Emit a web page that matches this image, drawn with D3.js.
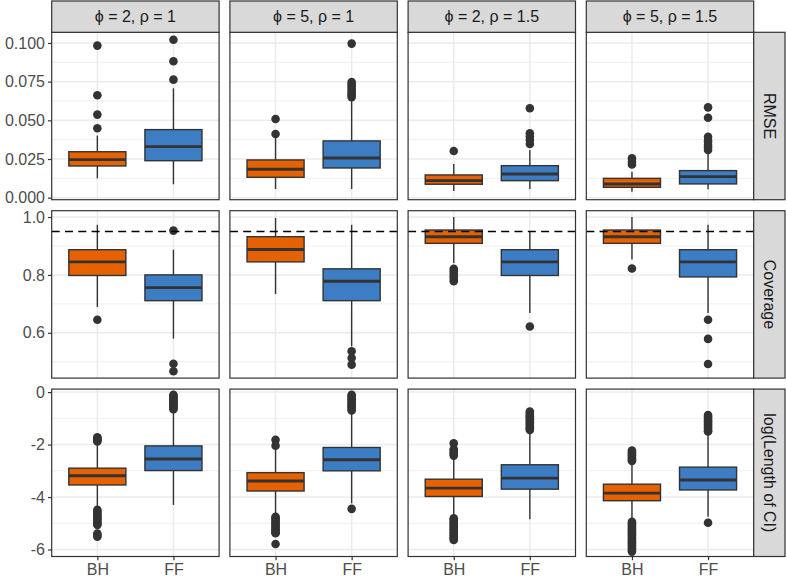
<!DOCTYPE html>
<html><head><meta charset="utf-8">
<script src="https://cdn.jsdelivr.net/npm/d3@7"></script>
<style>body{margin:0;background:#fff}</style>
</head><body><svg id="c" width="787" height="580"></svg>
<script>
// ---------- data ----------
const colFacets = ["ϕ = 2, ρ = 1", "ϕ = 5, ρ = 1", "ϕ = 2, ρ = 1.5", "ϕ = 5, ρ = 1.5"];
const rowFacets = ["RMSE", "Coverage", "log(Length of CI)"];
const methods = ["BH", "FF"];
const methodColors = ["#E66101", "#3C7DC4"];

const rmseTicks = [0, 0.025, 0.05, 0.075, 0.1];
const rmseTickLabels = ["0.000", "0.025", "0.050", "0.075", "0.100"];
const rmseMinor = [0.0125, 0.0375, 0.0625, 0.0875];
const covTicks = [0.6, 0.8, 1.0];
const covTickLabels = ["0.6", "0.8", "1.0"];
const covMinor = [0.5, 0.7, 0.9];
const logTicks = [-6, -4, -2, 0];
const logTickLabels = ["-6", "-4", "-2", "0"];
const logMinor = [-5, -3, -1];
const nominalCoverage = 0.95;

// box stats per column facet: [lower whisker, Q1, median, Q3, upper whisker]
const rmseBH = [
  [0.0125, 0.0205, 0.0246, 0.0297, 0.0401],
  [0.0056, 0.0132, 0.0184, 0.0244, 0.0394],
  [0.0043, 0.0087, 0.0110, 0.0147, 0.0218],
  [0.0039, 0.0067, 0.0088, 0.0125, 0.0168]
];
const rmseFF = [
  [0.0087, 0.0239, 0.0330, 0.0440, 0.0707],
  [0.0056, 0.0192, 0.0257, 0.0367, 0.0632],
  [0.0056, 0.0110, 0.0153, 0.0207, 0.0308],
  [0.0054, 0.0089, 0.0136, 0.0175, 0.0290]
];
const rmseBHOut = [
  [0.0449, 0.0537, 0.0662, 0.0983],
  [0.0412, 0.0509],
  [0.0302],
  [0.0215, 0.0232, 0.0255]
];
const rmseFFOut = [
  [0.0763, 0.0882, 0.1021],
  [0.0650, 0.0662, 0.0675, 0.0690, 0.0705, 0.0720, 0.0735, 0.0748, 0.0996],
  [0.0347, 0.0373, 0.0395, 0.0416, 0.0578],
  [0.0308, 0.0325, 0.0341, 0.0360, 0.0373, 0.0394, 0.0517, 0.0584]
];

const covBH = [
  [0.689, 0.798, 0.845, 0.887, 0.973],
  [0.734, 0.845, 0.888, 0.932, 0.997],
  [0.841, 0.909, 0.932, 0.955, 1.000],
  [0.853, 0.909, 0.932, 0.955, 1.000]
];
const covFF = [
  [0.580, 0.711, 0.756, 0.800, 0.887],
  [0.553, 0.711, 0.778, 0.821, 0.973],
  [0.668, 0.798, 0.845, 0.887, 0.950],
  [0.668, 0.793, 0.845, 0.887, 0.973]
];
const covBHOut = [
  [0.645],
  [],
  [0.821, 0.813, 0.804, 0.795, 0.787, 0.778],
  [0.822]
];
const covFFOut = [
  [0.953, 0.493, 0.467],
  [0.536, 0.513, 0.490],
  [0.622],
  [0.645, 0.579, 0.492]
];

const logBH = [
  [-4.37, -3.54, -3.19, -2.90, -2.01],
  [-4.68, -3.77, -3.39, -3.07, -2.20],
  [-4.75, -3.98, -3.66, -3.32, -2.50],
  [-4.85, -4.14, -3.85, -3.51, -2.68]
];
const logFF = [
  [-4.30, -2.99, -2.55, -2.05, -0.70],
  [-4.24, -3.00, -2.58, -2.11, -0.76],
  [-4.85, -3.70, -3.28, -2.77, -1.50],
  [-4.75, -3.73, -3.35, -2.86, -1.55]
];
const logBHOut = [
  [-1.72, -1.76, -1.80, -1.84, -1.88, -4.49, -4.55, -4.61, -4.67, -4.73, -4.79, -4.85, -4.91, -4.97, -5.03, -5.06, -5.39, -5.45, -5.51],
  [-1.82, -2.04, -4.75, -4.81, -4.87, -4.93, -4.99, -5.05, -5.11, -5.17, -5.23, -5.29, -5.35, -5.38, -5.79],
  [-1.95, -2.18, -2.24, -2.30, -2.36, -2.42, -4.81, -4.87, -4.93, -4.99, -5.05, -5.11, -5.17, -5.23, -5.29, -5.35, -5.41, -5.47, -5.53, -5.59, -5.64],
  [-2.23, -2.29, -2.35, -2.41, -2.47, -2.53, -2.59, -2.62, -4.94, -5.00, -5.06, -5.12, -5.18, -5.24, -5.30, -5.36, -5.42, -5.48, -5.54, -5.60, -5.66, -5.72, -5.78, -5.84, -5.90, -5.96, -6.02, -6.08]
];
const logFFOut = [
  [-0.10, -0.15, -0.20, -0.25, -0.30, -0.35, -0.40, -0.45, -0.50, -0.55, -0.60, -0.65],
  [-0.10, -0.16, -0.22, -0.28, -0.34, -0.40, -0.46, -0.52, -0.58, -0.64, -0.70, -4.45],
  [-0.74, -0.80, -0.86, -0.92, -0.98, -1.04, -1.10, -1.16, -1.22, -1.28, -1.34, -1.40, -1.44],
  [-0.87, -0.93, -0.99, -1.05, -1.11, -1.17, -1.23, -1.29, -1.35, -1.41, -1.47, -1.50, -4.98]
];

// ---------- layout ----------
const W = 787, H = 580;
const panelLeft = 51.7, panelW = 167.4, colGap = 10.8;
const panelTop = 32.3, panelH = 167.4, rowGap = 11;
const stripSize = 31.3;
const font = "'Liberation Sans', Arial, Helvetica, sans-serif";
const fs = 16;

const rows = [
  {name: rowFacets[0], domain: [-0.0013, 0.1069], ticks: rmseTicks, labels: rmseTickLabels, minor: rmseMinor,
   stats: [rmseBH, rmseFF], outs: [rmseBHOut, rmseFFOut], hline: null},
  {name: rowFacets[1], domain: [0.4435, 1.0218], ticks: covTicks, labels: covTickLabels, minor: covMinor,
   stats: [covBH, covFF], outs: [covBHOut, covFFOut], hline: nominalCoverage},
  {name: rowFacets[2], domain: [-6.267, 0.115], ticks: logTicks, labels: logTickLabels, minor: logMinor,
   stats: [logBH, logFF], outs: [logBHOut, logFFOut], hline: null}
];

const svg = d3.select("#c");
svg.append("rect").attr("width", W).attr("height", H).attr("fill", "#fff");

const x = d3.scalePoint().domain(methods).range([0, panelW]).padding(0.6);
const boxW = x.step() * 0.75;
const dark = "#333333";

rows.forEach((row, ri) => {
  const py = panelTop + ri * (panelH + rowGap);
  const y = d3.scaleLinear().domain(row.domain).range([panelH, 0]);
  colFacets.forEach((cf, ci) => {
    const px = panelLeft + ci * (panelW + colGap);
    const g = svg.append("g").attr("transform", `translate(${px},${py})`);
    g.append("rect").attr("width", panelW).attr("height", panelH).attr("fill", "#fff");
    g.selectAll(".mn").data(row.minor).enter().append("line")
      .attr("x1", 0).attr("x2", panelW).attr("y1", d => y(d)).attr("y2", d => y(d))
      .attr("stroke", "#EBEBEB").attr("stroke-width", 0.8);
    g.selectAll(".mj").data(row.ticks).enter().append("line")
      .attr("x1", 0).attr("x2", panelW).attr("y1", d => y(d)).attr("y2", d => y(d))
      .attr("stroke", "#EBEBEB").attr("stroke-width", 1.5);
    g.selectAll(".vj").data(methods).enter().append("line")
      .attr("x1", d => x(d)).attr("x2", d => x(d)).attr("y1", 0).attr("y2", panelH)
      .attr("stroke", "#EBEBEB").attr("stroke-width", 1.5);
    methods.forEach((m, mi) => {
      const s = row.stats[mi][ci];
      const cx = x(m);
      const bg = g.append("g");
      bg.append("line").attr("x1", cx).attr("x2", cx).attr("y1", y(s[3])).attr("y2", y(s[4]))
        .attr("stroke", dark).attr("stroke-width", 1.4);
      bg.append("line").attr("x1", cx).attr("x2", cx).attr("y1", y(s[1])).attr("y2", y(s[0]))
        .attr("stroke", dark).attr("stroke-width", 1.4);
      bg.append("rect").attr("x", cx - boxW / 2).attr("width", boxW)
        .attr("y", y(s[3])).attr("height", y(s[1]) - y(s[3]))
        .attr("fill", methodColors[mi]).attr("stroke", dark).attr("stroke-width", 1.4);
      bg.append("line").attr("x1", cx - boxW / 2).attr("x2", cx + boxW / 2)
        .attr("y1", y(s[2])).attr("y2", y(s[2]))
        .attr("stroke", dark).attr("stroke-width", 2.9);
      bg.selectAll("circle").data(row.outs[mi][ci]).enter().append("circle")
        .attr("cx", cx).attr("cy", d => y(d)).attr("r", 4.3).attr("fill", dark);
    });
    if (row.hline !== null) {
      g.append("line").attr("x1", 0).attr("x2", panelW)
        .attr("y1", y(row.hline)).attr("y2", y(row.hline))
        .attr("stroke", "#000").attr("stroke-width", 1.5).attr("stroke-dasharray", "8,5.3");
    }
    g.append("rect").attr("width", panelW).attr("height", panelH)
      .attr("fill", "none").attr("stroke", dark).attr("stroke-width", 1.2);

    if (ci === 0) {
      const ax = g.append("g").call(d3.axisLeft(y).tickValues(row.ticks)
        .tickFormat((d, i) => row.labels[i]).tickSize(3.7).tickPadding(3));
      ax.select(".domain").remove();
      ax.selectAll("line").attr("stroke", dark).attr("stroke-width", 1.2);
      ax.selectAll("text").attr("fill", "#4D4D4D").style("font-family", font).style("font-size", fs + "px");
    }
    if (ri === rows.length - 1) {
      const ax = g.append("g").attr("transform", `translate(0,${panelH})`)
        .call(d3.axisBottom(x).tickSize(3.7).tickPadding(3));
      ax.select(".domain").remove();
      ax.selectAll("line").attr("stroke", dark).attr("stroke-width", 1.2);
      ax.selectAll("text").attr("fill", "#4D4D4D").style("font-family", font).style("font-size", fs + "px");
    }
    if (ri === 0) {
      const sg = svg.append("g").attr("transform", `translate(${px},${panelTop - stripSize})`);
      sg.append("rect").attr("width", panelW).attr("height", stripSize)
        .attr("fill", "#D9D9D9").attr("stroke", dark).attr("stroke-width", 1.2);
      sg.append("text").attr("x", panelW / 2).attr("y", stripSize / 2)
        .attr("text-anchor", "middle").attr("dominant-baseline", "central")
        .attr("fill", "#1A1A1A").style("font-family", font).style("font-size", fs + "px").text(cf);
    }
  });
  const rx = panelLeft + 4 * panelW + 3 * colGap;
  const rg = svg.append("g").attr("transform", `translate(${rx},${py})`);
  rg.append("rect").attr("width", stripSize).attr("height", panelH)
    .attr("fill", "#D9D9D9").attr("stroke", dark).attr("stroke-width", 1.2);
  rg.append("text").attr("transform", `translate(${stripSize / 2},${panelH / 2}) rotate(90)`)
    .attr("text-anchor", "middle").attr("dominant-baseline", "central")
    .attr("fill", "#1A1A1A").style("font-family", font).style("font-size", fs + "px").text(row.name);
});
</script></body></html>
